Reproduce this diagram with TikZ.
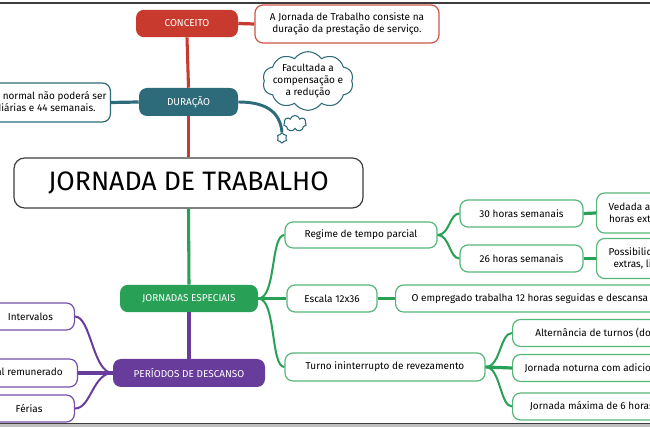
\documentclass[tikz,border=0pt]{standalone}
\usepackage{fontspec}
\setmainfont{Fira Sans}
\usetikzlibrary{shapes.symbols}
\definecolor{cRed}{RGB}{200,58,45}
\definecolor{cRedLine}{RGB}{205,85,75}
\definecolor{cTeal}{RGB}{46,107,122}
\definecolor{cGreen}{RGB}{40,160,85}
\definecolor{cGreenLine}{RGB}{85,182,120}
\definecolor{cPurple}{RGB}{104,60,155}
\definecolor{cPurpleLine}{RGB}{115,80,170}
\definecolor{cFrame}{RGB}{60,60,60}
\begin{document}
\begin{tikzpicture}[x=0.75pt,y=0.75pt,yscale=-1,xscale=1,
  small/.style={font=\fontsize{7.5}{9}\selectfont},
  topic/.style={small, rounded corners=6pt, text=white, inner sep=0pt, minimum height=20.5pt},
  leaf/.style={small, draw, fill=white, rounded corners=6pt, line width=0.9pt, align=center, inner sep=0pt, minimum height=20.25pt},
  puff/.style={cloud, cloud ignores aspect, draw=cTeal, line width=0.8pt, fill=white},
  trunk/.style={line width=2.3pt},
  branch/.style={line width=1.5pt},
  link/.style={line width=2.4pt}]
\useasboundingbox (0,0) rectangle (650,427);
\clip (0,0) rectangle (650,427);
%Frame lines
\draw [cFrame, line width=1pt] (0,3) -- (650,3) ;
\fill [black!25] (0,424) rectangle (650,427) ;
\draw [cFrame, line width=1pt] (0,423.5) -- (650,423.5) ;

%Shape: Main topic
\node [draw=cFrame, line width=0.9pt, fill=white, rounded corners=8pt, minimum width=261.75pt, minimum height=37.5pt, inner sep=0pt, font=\fontsize{20}{24}\selectfont] (titulo) at (188.5,183) {JORNADA DE TRABALHO};

%Shape: Conceito
\node [topic, fill=cRed, minimum width=76.5pt] (conceito) at (187,23.5) {CONCEITO};
\node [leaf, draw=cRedLine, minimum width=138pt, minimum height=28.5pt] (conceitoTxt) at (347,24) {A Jornada de Trabalho consiste na\\duração da prestação de serviço.};

%Shape: Duracao
\node [topic, fill=cTeal, minimum width=74.25pt, minimum height=21pt] (duracao) at (188.5,102) {DURAÇÃO};
\node [leaf, draw=cTeal, anchor=east, inner xsep=3pt, minimum height=29.25pt] (duracaoTxt) at (111,102.5) {A duração do trabalho normal não poderá ser\\superior a 8 horas diárias e 44 semanais.};
\node [small, puff, cloud puffs=10, cloud puff arc=110, align=center, inner xsep=-7pt, inner ysep=-4pt, minimum width=68pt, minimum height=44pt] (nuvem) at (308,81) {Facultada a\\compensação e\\a redução};
\node [puff, cloud puffs=7, minimum width=17pt, minimum height=12pt, inner sep=0pt] (bolha1) at (295,123.5) {};
\node [puff, cloud puffs=6, minimum width=7.5pt, minimum height=7.5pt, inner sep=0pt] (bolha2) at (282,138) {};

%Shape: Jornadas especiais
\node [topic, fill=cGreen, minimum width=103.5pt] (especiais) at (189,298.5) {JORNADAS ESPECIAIS};
\node [leaf, draw=cGreenLine, minimum width=114pt, minimum height=19.5pt] (parcial) at (361,235) {Regime de tempo parcial};
\node [leaf, draw=cGreenLine, minimum width=92.25pt] (trinta) at (521.5,213.5) {30 horas semanais};
\node [leaf, draw=cGreenLine, minimum width=92.25pt] (vinteseis) at (521.5,258.5) {26 horas semanais};
\node [leaf, draw=cGreenLine, anchor=west, inner xsep=9pt, minimum height=30pt] (vedada) at (596,213) {Vedada a realização de\\horas extras semanais.};
\node [leaf, draw=cGreenLine, anchor=west, inner xsep=9pt, minimum height=30pt] (possivel) at (596,258.5) {Possibilidade de horas\\extras, limitadas a 6.};
\node [leaf, draw=cGreenLine, minimum width=67.5pt] (escala) at (332,298.5) {Escala 12x36};
\node [leaf, draw=cGreenLine, anchor=west, inner xsep=12pt] (escalaTxt) at (395,298.5) {O empregado trabalha 12 horas seguidas e descansa 36 horas.};
\node [leaf, draw=cGreenLine, minimum width=150pt, minimum height=21pt] (turno) at (385,367) {Turno ininterrupto de revezamento};
\node [leaf, draw=cGreenLine, anchor=west, inner xsep=17pt] (alterna) at (512,333) {Alternância de turnos (do dia e da noite)};
\node [leaf, draw=cGreenLine, anchor=west, inner xsep=9pt] (noturna) at (512,368) {Jornada noturna com adicional};
\node [leaf, draw=cGreenLine, anchor=west, inner xsep=13pt] (maxima) at (512,406.5) {Jornada máxima de 6 horas};

%Shape: Periodos de descanso
\node [topic, fill=cPurple, minimum width=114pt, minimum height=21pt] (descanso) at (189,373) {PERÍODOS DE DESCANSO};
\node [leaf, draw=cPurpleLine, anchor=east, minimum width=66pt] (intervalos) at (75,316.5) {Intervalos};
\node [leaf, draw=cPurpleLine, anchor=east, inner xsep=11pt, minimum height=21pt] (repouso) at (78,373) {Repouso semanal remunerado};
\node [leaf, draw=cPurpleLine, anchor=east, minimum width=68pt] (ferias) at (75,408.5) {Férias};

%Straight Lines
\draw [cRed, trunk] (conceito.south) -- (duracao.north) ;
\draw [cRed, trunk] (duracao.south) -- (titulo.north) ;
\draw [cRed, link] (conceito.east) -- (conceitoTxt.west) ;
\draw [cTeal, link] (duracao.west) -- (duracaoTxt.east) ;
\draw [cGreen, trunk] (titulo.south) -- (especiais.north) ;
\draw [cPurple, trunk] (especiais.south) -- (descanso.north) ;
%Curve Lines
\draw [cTeal, line width=2.2pt] (duracao.east) .. controls +(26,0) and +(-2,-22) .. (bolha2.north) ;
\draw [cGreen, branch] (especiais.east) .. controls +(18,0) and +(-14,0) .. (parcial.west) ;
\draw [cGreen, link] (especiais.east) -- (escala.west) ;
\draw [cGreen, branch] (especiais.east) .. controls +(18,0) and +(-14,0) .. (turno.west) ;
\draw [cGreen, branch] (parcial.east) .. controls +(12,0) and +(-10,0) .. (trinta.west) ;
\draw [cGreen, branch] (parcial.east) .. controls +(12,0) and +(-10,0) .. (vinteseis.west) ;
\draw [cGreen, link] (trinta.east) -- (vedada.west) ;
\draw [cGreen, link] (vinteseis.east) -- (possivel.west) ;
\draw [cGreen, link] (escala.east) -- (escalaTxt.west) ;
\draw [cGreen, branch] (turno.east) .. controls +(15,0) and +(-12,0) .. (alterna.west) ;
\draw [cGreen, link] (turno.east) -- (noturna.west) ;
\draw [cGreen, branch] (turno.east) .. controls +(15,0) and +(-12,0) .. (maxima.west) ;
\draw [cPurple, branch] (descanso.west) .. controls +(-20,0) and +(16,0) .. (intervalos.east) ;
\draw [cPurple, link] (descanso.west) -- (repouso.east) ;
\draw [cPurple, branch] (descanso.west) .. controls +(-20,0) and +(16,0) .. (ferias.east) ;

\end{tikzpicture}
\end{document}
